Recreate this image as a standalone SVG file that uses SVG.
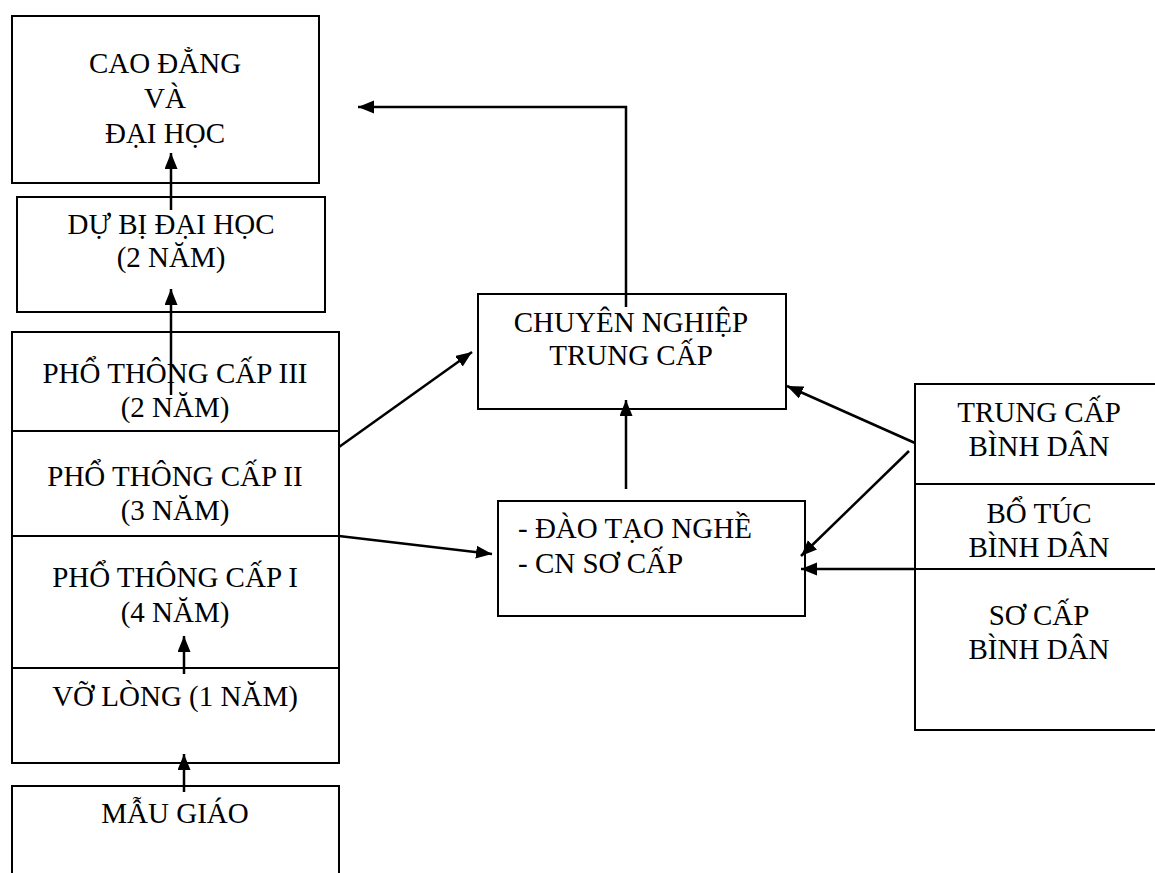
<svg xmlns="http://www.w3.org/2000/svg" width="1155" height="873" viewBox="0 0 1155 873">
<style>
.box{fill:none;stroke:#000;stroke-width:2}
.t{font-family:"Liberation Serif","Times New Roman",serif;font-size:29px;fill:#000;text-anchor:middle}
.ts{font-family:"Liberation Serif","Times New Roman",serif;font-size:29px;fill:#000;text-anchor:start}
.c{fill:none;stroke:#000;stroke-width:2.5}
</style>
<defs>
<marker id="ah" markerUnits="userSpaceOnUse" markerWidth="17" markerHeight="14" refX="16" refY="6.5" orient="auto">
<path d="M0,0 L16,6.5 L0,13 z" fill="#000"/>
</marker>
</defs>
<rect width="1155" height="873" fill="#fff"/>
<g id="cao-dang">
<rect class="box" x="12" y="16" width="307" height="167"/>
<text class="t" x="165" y="73">CAO ĐẲNG</text>
<text class="t" x="165" y="108">VÀ</text>
<text class="t" x="165" y="143">ĐẠI HỌC</text>
</g>
<g id="du-bi">
<rect class="box" x="17" y="197" width="308" height="115"/>
<text class="t" x="171" y="234">DỰ BỊ ĐẠI HỌC</text>
<text class="t" x="171" y="267">(2 NĂM)</text>
</g>
<g id="pho-thong-3">
<rect class="box" x="12" y="332" width="327" height="99"/>
<text class="t" x="175" y="383">PHỔ THÔNG CẤP III</text>
<text class="t" x="175" y="417">(2 NĂM)</text>
</g>
<g id="pho-thong-2">
<rect class="box" x="12" y="431" width="327" height="105"/>
<text class="t" x="175" y="486">PHỔ THÔNG CẤP II</text>
<text class="t" x="175" y="520">(3 NĂM)</text>
</g>
<g id="pho-thong-1">
<rect class="box" x="12" y="536" width="327" height="132"/>
<text class="t" x="175" y="587">PHỔ THÔNG CẤP I</text>
<text class="t" x="175" y="622">(4 NĂM)</text>
</g>
<g id="vo-long">
<rect class="box" x="12" y="668" width="327" height="95"/>
<text class="t" x="175" y="706">VỠ LÒNG (1 NĂM)</text>
</g>
<g id="mau-giao">
<rect class="box" x="12" y="786" width="327" height="92"/>
<text class="t" x="175" y="823">MẪU GIÁO</text>
</g>
<g id="chuyen-nghiep">
<rect class="box" x="478" y="294" width="308" height="115"/>
<text class="t" x="631" y="332">CHUYÊN NGHIỆP</text>
<text class="t" x="631" y="365">TRUNG CẤP</text>
</g>
<g id="dao-tao">
<rect class="box" x="498" y="501" width="307" height="115"/>
<text class="ts" x="518" y="538">- ĐÀO TẠO NGHỀ</text>
<text class="ts" x="518" y="573">- CN SƠ CẤP</text>
</g>
<g id="trung-cap-bd">
<rect class="box" x="915" y="384" width="250" height="100"/>
<text class="t" x="1039" y="422">TRUNG CẤP</text>
<text class="t" x="1039" y="456">BÌNH DÂN</text>
</g>
<g id="bo-tuc-bd">
<rect class="box" x="915" y="484" width="250" height="85"/>
<text class="t" x="1039" y="523">BỔ TÚC</text>
<text class="t" x="1039" y="557">BÌNH DÂN</text>
</g>
<g id="so-cap-bd">
<rect class="box" x="915" y="569" width="250" height="161"/>
<text class="t" x="1039" y="625">SƠ CẤP</text>
<text class="t" x="1039" y="659">BÌNH DÂN</text>
</g>
<g id="connectors">
<line class="c" x1="171" y1="210" x2="171" y2="153" marker-end="url(#ah)"/>
<line class="c" x1="171" y1="395" x2="171" y2="289" marker-end="url(#ah)"/>
<line class="c" x1="184" y1="674" x2="184" y2="636" marker-end="url(#ah)"/>
<line class="c" x1="184" y1="792" x2="184" y2="754" marker-end="url(#ah)"/>
<line class="c" x1="339" y1="447" x2="472" y2="352" marker-end="url(#ah)"/>
<line class="c" x1="339" y1="536" x2="492" y2="554" marker-end="url(#ah)"/>
<path class="c" d="M626,307 V107 H358" marker-end="url(#ah)"/>
<line class="c" x1="626" y1="489" x2="626" y2="400" marker-end="url(#ah)"/>
<line class="c" x1="915" y1="443" x2="787" y2="386" marker-end="url(#ah)"/>
<line class="c" x1="909" y1="451" x2="801" y2="556" marker-end="url(#ah)"/>
<line class="c" x1="915" y1="569" x2="801" y2="569" marker-end="url(#ah)"/>
</g>
</svg>
